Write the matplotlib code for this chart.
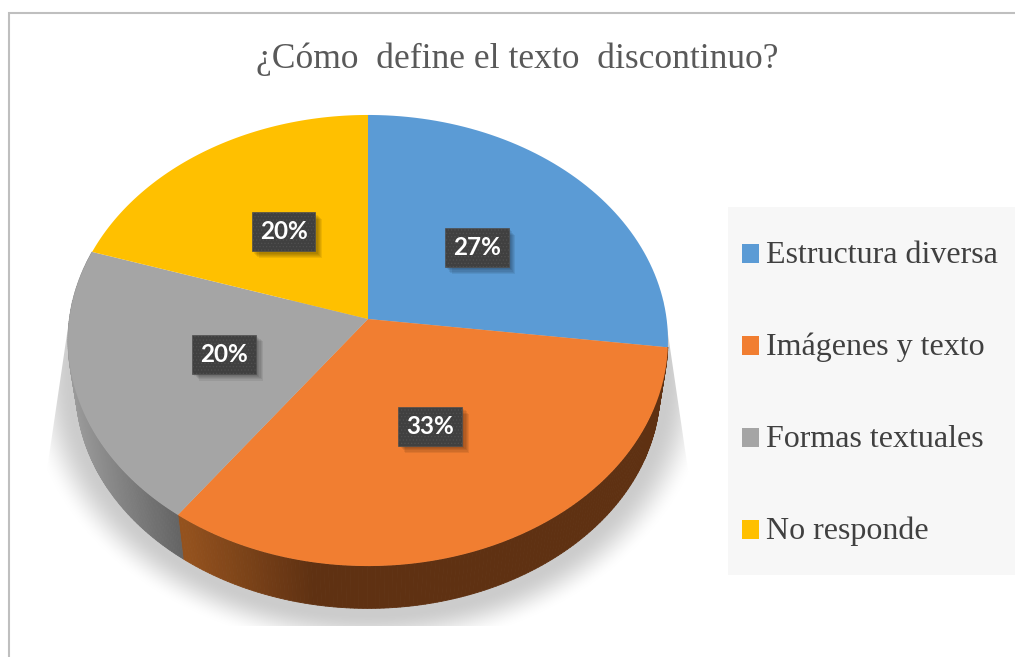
import numpy as np
import matplotlib
matplotlib.use("Agg")
import matplotlib.pyplot as plt
import matplotlib.patheffects as pe
from matplotlib.collections import PolyCollection
from matplotlib.colors import to_rgb
from matplotlib.patches import Polygon, Rectangle
from matplotlib.path import Path
from matplotlib.transforms import Affine2D, Transform

CATEGORIES = ["Estructura diversa", "Imágenes y texto", "Formas textuales", "No responde"]
VALUES = [27, 33, 20, 20]
COLORS = ["#5b9bd5", "#f17e31", "#a5a5a5", "#ffc000"]
TITLE = "¿Cómo  define el texto  discontinuo?"

# pie plane seen in perspective, in picture pixels
CX, CY = 368.0, 319.0
A, B, P = 298.6, 223.5, 0.0954
DEPTH_SCALE, DEPTH_DY = 0.974, 49.4


class Perspective(Transform):
    input_dims = output_dims = 2
    is_separable = False
    has_inverse = False

    def transform_non_affine(self, xy):
        xy = np.asarray(xy, dtype=float)
        w = 1 + P * xy[:, 1]
        return np.column_stack([CX + A * xy[:, 0] / w, CY - B * xy[:, 1] / w])

    def transform_path_non_affine(self, path):
        # flatten the wedge curves first, they don't survive the projection
        polys = path.transformed(Affine2D().scale(1000)).to_polygons()
        return Path(self.transform_non_affine(polys[0] / 1000))


class PlainShadow(pe.SimplePatchShadow):
    # same shadow, without the hatch of the box on it
    def draw_path(self, renderer, gc, tpath, affine, rgbFace):
        hatch = gc.get_hatch()
        gc.set_hatch(None)
        super().draw_path(renderer, gc, tpath, affine, rgbFace)
        gc.set_hatch(hatch)


def blend(c0, c1, t):
    return tuple((1 - t) * a + t * b for a, b in zip(to_rgb(c0), to_rgb(c1)))


fig = plt.figure(figsize=(10.15, 6.57), dpi=100, facecolor="white")
ax = fig.add_axes([0, 0, 1, 1])

wedges, _, autotexts = ax.pie(VALUES, startangle=90, counterclock=False,
                              colors=COLORS, autopct="%.0f%%", pctdistance=0.5)
ax.set_aspect("auto")
ax.axis("off")
proj = Perspective()

# soft shadow under the pie, cut like the original bitmap
yy, xx = np.mgrid[290:627, 20:720]
r = np.hypot((xx - 368) / 330, (yy - 378) / 262)
alpha = np.clip((1.04 - r) / 0.14, 0, 1)
alpha = alpha * alpha * (3 - 2 * alpha)
rgba = np.zeros(alpha.shape + (4,))
rgba[..., :3] = 0.80
rgba[..., 3] = alpha
im = ax.imshow(rgba, extent=(20, 720, 627, 290), aspect="auto", zorder=1, interpolation="bilinear")
im.set_clip_path(Polygon([(72, 300), (663, 300), (711, 626), (24, 626)], transform=ax.transData))
ax.set_xlim(0, 1015)
ax.set_ylim(657, 0)

# side wall, one thin strip per step
WALL = {1: ("#94521e", "#5f3112", 183, 310), 2: ("#9c9c9c", "#616161", 70, 183)}
for i, (c0, c1, x0, x1) in WALL.items():
    t = np.radians(np.linspace(wedges[i].theta1, wedges[i].theta2, 160))
    unit = np.column_stack([np.cos(t), np.sin(t)])
    top = proj.transform(unit)
    low = proj.transform(unit * DEPTH_SCALE)
    low[:, 1] += DEPTH_DY
    polys, cols = [], []
    for k in range(len(t) - 1):
        polys.append([top[k], top[k + 1], low[k + 1], low[k]])
        frac = np.clip((top[k, 0] - x0) / (x1 - x0), 0, 1)
        cols.append(blend(c0, c1, frac))
    ax.add_collection(PolyCollection(polys, facecolors=cols, edgecolors=cols, linewidths=0.6, zorder=2))

for w in wedges:
    w.set_transform(proj + ax.transData)
    w.set_zorder(3)
    w.set_edgecolor("none")

plt.rcParams["hatch.linewidth"] = 0.5
shadow = [PlainShadow(offset=(d, -d), shadow_rgbFace="black", alpha=0.07) for d in (5, 4.2, 3.4, 2.6, 1.8)]
for t in autotexts:
    t.set_transform(proj + ax.transData)
    t.set(color="white", fontfamily="Lato", fontweight="bold", fontsize=17.5, zorder=5,
          ha="center", va="center")
    t.set_bbox(dict(boxstyle="square,pad=0.33", fc="#404040", ec="#505050", lw=0.5, hatch="....."))
    t.get_bbox_patch().set_path_effects(shadow + [pe.Normal()])

ax.add_patch(Rectangle((728, 207), 287, 368, fc="#f7f7f7", ec="none", zorder=1))
leg = ax.legend(wedges, CATEGORIES, loc="upper left", bbox_to_anchor=(742, 241), bbox_transform=ax.transData,
                frameon=False, borderpad=0, borderaxespad=0, prop={"family": "Liberation Serif", "size": 23},
                labelcolor="#404040", handlelength=0.53, handleheight=0.53, handletextpad=0.23, labelspacing=1.96)
for h in leg.legend_handles:
    h.set_y(h.get_y() - 1.5)

ax.text(256, 59, TITLE, ha="left", va="center", fontsize=25.6, color="#595959", family="Liberation Serif")

ax.plot([9.5, 9.5, 1015], [657, 12.5, 12.5], color="#bfbfbf", lw=1.5, solid_joinstyle="miter", zorder=1)

fig.savefig("out.png", dpi=100)
